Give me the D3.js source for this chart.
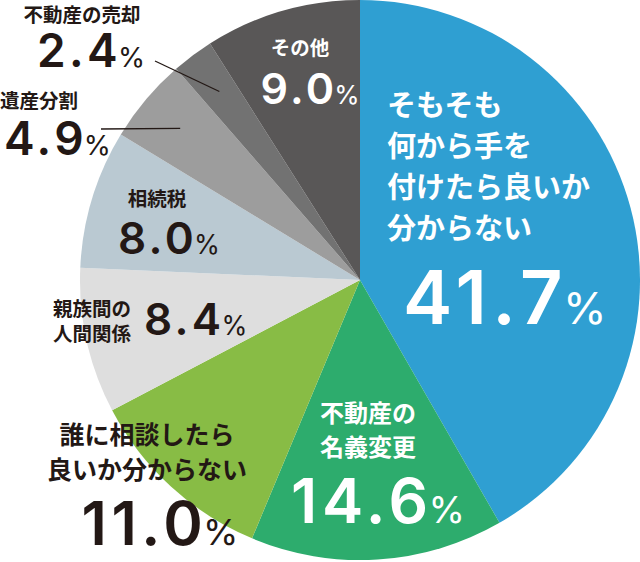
<!DOCTYPE html>
<html><head><meta charset="utf-8">
<script src="https://cdn.jsdelivr.net/npm/d3@7"></script>
<style>
html,body{margin:0;padding:0;background:#fff;}
svg{display:block;}
</style></head>
<body>
<svg id="c" width="640" height="562"></svg>
<script>
// ---- data ----
const categories = [
  "そもそも何から手を付けたら良いか分からない",
  "不動産の名義変更",
  "誰に相談したら良いか分からない",
  "親族間の人間関係",
  "相続税",
  "遺産分割",
  "不動産の売却",
  "その他"
];
const values = [41.7, 14.6, 11.0, 8.4, 8.0, 4.9, 2.4, 9.0];
const labelLines = [
  ["そもそも", "何から手を", "付けたら良いか", "分からない"],
  ["不動産の", "名義変更"],
  ["誰に相談したら", "良いか分からない"],
  ["親族間の", "人間関係"],
  ["相続税"],
  ["遺産分割"],
  ["不動産の売却"],
  ["その他"]
];
const colors = ["#2f9fd2", "#2dac6d", "#88bc45", "#dedede", "#bac9d2", "#9d9d9d", "#727272", "#595757"];

// ---- layout (styles/positions) ----
const cx = 360, cy = 280, R = 280;
const dark = "#231815", white = "#ffffff";
const layout = [
  {fill: white, nameSize: 29, nameAnchor: "start", nameX: 387, nameY: [116, 157, 198, 239], numSize: 74, numAnchor: "start", numX: 403, numY: 324},
  {fill: white, nameSize: 24, nameAnchor: "middle", nameX: 368, nameY: [422, 456], numSize: 62, numAnchor: "middle", numX: 378, numY: 523},
  {fill: dark, nameSize: 25, nameAnchor: "middle", nameX: 147, nameY: [444, 479], numSize: 60, numAnchor: "middle", numX: 160, numY: 545},
  {fill: dark, nameSize: 19.5, nameAnchor: "start", nameX: 53, nameY: [316, 341], numSize: 44, numAnchor: "start", numX: 144, numY: 335},
  {fill: dark, nameSize: 19.5, nameAnchor: "middle", nameX: 157, nameY: [206], numSize: 44, numAnchor: "middle", numX: 169, numY: 254},
  {fill: dark, nameSize: 19.5, nameAnchor: "start", nameX: 0, nameY: [108], numSize: 46, numAnchor: "start", numX: 4, numY: 155, leader: [101, 129]},
  {fill: dark, nameSize: 19.5, nameAnchor: "middle", nameX: 82, nameY: [22], numSize: 46, numAnchor: "middle", numX: 91, numY: 67, leader: [155, 61]},
  {fill: white, nameSize: 19.5, nameAnchor: "middle", nameX: 300, nameY: [55], numSize: 43, numAnchor: "middle", numX: 310, numY: 104}
];

const svg = d3.select("#c");
const g = svg.append("g").attr("transform", `translate(${cx},${cy})`);

const pie = d3.pie().sort(null).value(d => d)(values);
const arc = d3.arc().innerRadius(0).outerRadius(R);
const leaderArc = d3.arc().innerRadius(R * 0.84).outerRadius(R * 0.84);

g.selectAll("path.slice").data(pie).join("path")
  .attr("class", "slice")
  .attr("d", arc)
  .attr("fill", (d, i) => colors[i]);

// leader lines
pie.forEach((d, i) => {
  const L = layout[i];
  if (!L.leader) return;
  const [ex, ey] = leaderArc.centroid(d);
  svg.append("line")
    .attr("x1", L.leader[0]).attr("y1", L.leader[1])
    .attr("x2", cx + ex).attr("y2", cy + ey)
    .attr("stroke", dark).attr("stroke-width", 1.3);
});

const jpFont = "'Noto Sans CJK JP', 'Noto Sans', sans-serif";
const numFont = "Inter, 'Noto Sans', sans-serif";

values.forEach((v, i) => {
  const L = layout[i];
  labelLines[i].forEach((line, k) => {
    svg.append("text")
      .attr("x", L.nameX).attr("y", L.nameY[k])
      .attr("text-anchor", L.nameAnchor)
      .attr("fill", L.fill)
      .attr("font-family", jpFont)
      .attr("font-weight", 700)
      .attr("font-size", L.nameSize)
      .text(line);
  });
  const t = svg.append("text")
    .attr("x", L.numX).attr("y", L.numY)
    .attr("text-anchor", L.numAnchor)
    .attr("fill", L.fill)
    .attr("font-family", numFont)
    .attr("font-weight", 600);
  t.append("tspan").attr("font-size", L.numSize).attr("letter-spacing", L.numSize * 0.075).text(d3.format(".1f")(v));
  t.append("tspan").attr("font-size", L.numSize * 0.6).attr("font-weight", 400)
    .attr("dx", -L.numSize * 0.07).text("%");
});
</script>
</body></html>
